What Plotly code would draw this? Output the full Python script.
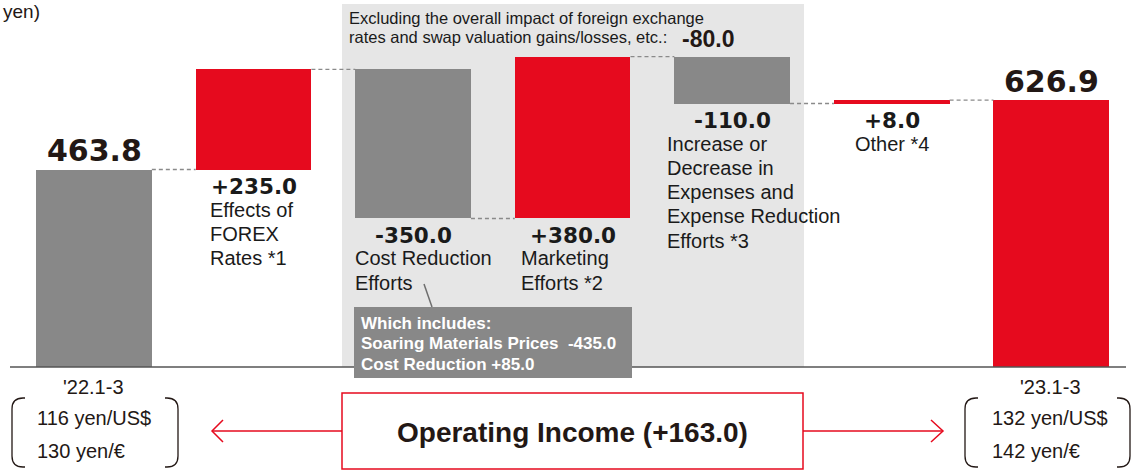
import plotly.graph_objects as go

# ---------------- data ----------------
categories = ["'22.1-3", "Effects of FOREX Rates *1", "Cost Reduction Efforts",
              "Marketing Efforts *2",
              "Increase or Decrease in Expenses and Expense Reduction Efforts *3",
              "Other *4", "'23.1-3"]
start_value = 463.8
deltas = [235.0, -350.0, 380.0, -110.0, 8.0]
end_value = 626.9
value_labels = ["463.8", "+235.0", "-350.0", "+380.0", "-110.0", "+8.0", "626.9"]
label_lines = [[], ["Effects of", "FOREX", "Rates *1"], ["Cost Reduction", "Efforts"],
               ["Marketing", "Efforts *2"],
               ["Increase or", "Decrease in", "Expenses and", "Expense Reduction", "Efforts *3"],
               ["Other *4"], []]
excl_lines = ["Excluding the overall impact of foreign exchange",
              "rates and swap valuation gains/losses, etc.:"]
excl_value = "-80.0"
callout_lines = ["Which includes:", "Soaring Materials Prices  -435.0", "Cost Reduction +85.0"]
periods = ["'22.1-3", "'23.1-3"]
fx_rates = [["116 yen/US$", "130 yen/€"], ["132 yen/US$", "142 yen/€"]]
summary_text = "Operating Income (+163.0)"
unit_text = "yen)"

# ---------------- style ----------------
W, H = 1132, 470
RED = "#E60A1E"
GRAY = "#888888"
BOXBG = "#E6E6E6"
TXT = "#1a1a1a"
TXT2 = "#231815"
BAR_W = 0.725
NUM_FONT = dict(family="DejaVu Sans", size=21.5, color=TXT)
TOT_FONT = dict(family="DejaVu Sans", size=30, color=TXT2)
LBL_FONT = dict(family="Liberation Sans", size=20, color=TXT)


def P(xpx):
    return xpx / W


def Q(ypx):
    return 1 - ypx / H


# cumulative levels
levels = [start_value]
for d in deltas:
    levels.append(round(levels[-1] + d, 1))

bases, heights, colors = [], [], []
bases.append(0); heights.append(start_value); colors.append(GRAY)
for i, d in enumerate(deltas):
    bases.append(min(levels[i], levels[i + 1]))
    heights.append(abs(d))
    colors.append(RED if d > 0 else GRAY)
bases.append(0); heights.append(end_value); colors.append(RED)

xs = list(range(len(categories)))

fig = go.Figure()
fig.add_trace(go.Bar(x=xs, y=heights, base=bases, width=BAR_W,
                     marker=dict(color=colors, line=dict(width=0)),
                     hoverinfo="skip", customdata=categories))

shapes = []
# grey background region
shapes.append(dict(type="rect", xref="paper", yref="paper", x0=P(342), x1=P(804),
                   y0=Q(367), y1=Q(4), fillcolor=BOXBG, line=dict(width=0), layer="below"))

# connectors
for i in range(len(categories) - 1):
    lvl = levels[i] if i < len(levels) else end_value
    shapes.append(dict(type="line", xref="x", yref="y", x0=i + BAR_W / 2, x1=i + 1 - BAR_W / 2,
                       y0=lvl, y1=lvl, line=dict(color="#8a8a8a", width=1.3, dash="4px,3px"),
                       layer="above"))

# baseline
shapes.append(dict(type="line", xref="paper", yref="y", x0=P(10), x1=P(1126), y0=0, y1=0,
                   line=dict(color="#555555", width=1.5), layer="above"))

# callout box + leader line
shapes.append(dict(type="line", xref="paper", yref="paper", x0=P(424), y0=Q(284), x1=P(432), y1=Q(307),
                   line=dict(color="#6e6e6e", width=1.5), layer="above"))
shapes.append(dict(type="rect", xref="paper", yref="paper", x0=P(354), x1=P(632),
                   y0=Q(378), y1=Q(307), fillcolor=GRAY, line=dict(width=0), layer="above"))

# summary box
shapes.append(dict(type="rect", xref="paper", yref="paper", x0=P(342), x1=P(803),
                   y0=Q(469), y1=Q(393), fillcolor="white", line=dict(color=RED, width=1.5),
                   layer="above"))
# arrows
ay = 431
shapes.append(dict(type="line", xref="paper", yref="paper", x0=P(342), x1=P(212), y0=Q(ay), y1=Q(ay),
                   line=dict(color=RED, width=1.5)))
shapes.append(dict(type="path", xref="paper", yref="paper",
                   path=f"M {P(223)} {Q(420)} L {P(212)} {Q(ay)} L {P(223)} {Q(442)}",
                   line=dict(color=RED, width=1.5)))
shapes.append(dict(type="line", xref="paper", yref="paper", x0=P(803), x1=P(943), y0=Q(ay), y1=Q(ay),
                   line=dict(color=RED, width=1.5)))
shapes.append(dict(type="path", xref="paper", yref="paper",
                   path=f"M {P(931)} {Q(420)} L {P(943)} {Q(ay)} L {P(931)} {Q(442)}",
                   line=dict(color=RED, width=1.5)))


# brackets
def bracket(x0, x1, top, bot, r=11, stub=2):
    left = (f"M {P(x0 + r + stub)} {Q(top)} L {P(x0 + r)} {Q(top)} "
            f"Q {P(x0)} {Q(top)} {P(x0)} {Q(top + r)} L {P(x0)} {Q(bot - r)} "
            f"Q {P(x0)} {Q(bot)} {P(x0 + r)} {Q(bot)} L {P(x0 + r + stub)} {Q(bot)}")
    right = (f"M {P(x1 - r - stub)} {Q(top)} L {P(x1 - r)} {Q(top)} "
             f"Q {P(x1)} {Q(top)} {P(x1)} {Q(top + r)} L {P(x1)} {Q(bot - r)} "
             f"Q {P(x1)} {Q(bot)} {P(x1 - r)} {Q(bot)} L {P(x1 - r - stub)} {Q(bot)}")
    return [dict(type="path", xref="paper", yref="paper", path=p,
                 line=dict(color=TXT2, width=1.3)) for p in (left, right)]


shapes += bracket(12, 178, 398, 467)
shapes += bracket(965, 1130, 398, 467)

ann = []
# value labels
label_dx = [0, -44, -58, -52, -65, 0, 0]
for i, txt in enumerate(value_labels):
    if i == 0 or i == len(value_labels) - 1:
        top = start_value if i == 0 else end_value
        ann.append(dict(x=i, y=top, xref="x", yref="y", text=txt, showarrow=False,
                        font=dict(TOT_FONT, weight="bold"), xanchor="center", yanchor="middle",
                        yshift=19))
    else:
        low = bases[i]
        ann.append(dict(x=i, y=low, xref="x", yref="y", text=txt, showarrow=False,
                        font=dict(NUM_FONT, weight="bold"), xanchor="center", yanchor="middle",
                        yshift=-17))
        lines = label_lines[i]
        for k, ln in enumerate(lines):
            if len(lines) == 1:
                ann.append(dict(x=i, y=low, xref="x", yref="y", text=ln, showarrow=False,
                                font=LBL_FONT, xanchor="center", yanchor="middle",
                                yshift=-(17 + 23.5 + 24.3 * k)))
            else:
                ann.append(dict(x=i, y=low, xref="x", yref="y", text=ln, showarrow=False,
                                font=LBL_FONT, xanchor="left", yanchor="middle",
                                xshift=label_dx[i] - 2, yshift=-(17 + 23 + 24.3 * k)))

# excluding text
for k, ln in enumerate(excl_lines):
    ann.append(dict(x=P(347), y=Q(18 + 19.5 * k), xref="paper", yref="paper", text=ln,
                    showarrow=False, font=dict(family="Liberation Sans", size=16.5, color=TXT),
                    xanchor="left", yanchor="middle"))
ann.append(dict(x=P(680), y=Q(38.5), xref="paper", yref="paper", text=excl_value, showarrow=False,
                font=dict(family="Liberation Sans", size=23, color=TXT2, weight="bold"),
                xanchor="left", yanchor="middle"))

# callout text
for k, ln in enumerate(callout_lines):
    ann.append(dict(x=P(359), y=Q(323.5 + 20.4 * k), xref="paper", yref="paper", text=ln,
                    showarrow=False, font=dict(family="Liberation Sans", size=17, color="white",
                                               weight="bold"),
                    xanchor="left", yanchor="middle"))

# summary
ann.append(dict(x=P(572), y=Q(432), xref="paper", yref="paper", text=summary_text, showarrow=False,
                font=dict(family="Liberation Sans", size=28, color=TXT2, weight="bold"),
                xanchor="center", yanchor="middle"))

# periods and fx
for j, (cx, lx) in enumerate([(94, 35), (1050, 990)]):
    ann.append(dict(x=P(cx), y=Q(387), xref="paper", yref="paper", text=periods[j], showarrow=False,
                    font=dict(family="Liberation Sans", size=20, color=TXT2),
                    xanchor="center", yanchor="middle"))
    for k, ln in enumerate(fx_rates[j]):
        ann.append(dict(x=P(lx), y=Q(417.5 + 33 * k), xref="paper", yref="paper", text=ln,
                        showarrow=False, font=dict(family="Liberation Sans", size=20, color=TXT2),
                        xanchor="left", yanchor="middle"))

# unit text (top-left)
ann.append(dict(x=P(1), y=Q(0), xref="paper", yref="paper", text=unit_text, showarrow=False,
                font=dict(family="Liberation Sans", size=19, color=TXT2),
                xanchor="left", yanchor="top", yshift=1))

px_per_unit = 0.4258
base_px = 367
fig.update_layout(
    width=W, height=H, margin=dict(l=0, r=0, t=0, b=0),
    paper_bgcolor="white", plot_bgcolor="rgba(0,0,0,0)",
    showlegend=False, bargap=0,
    xaxis=dict(visible=False, range=[-94 / 159.55, (W - 94) / 159.55], fixedrange=True),
    yaxis=dict(visible=False, range=[-(H - base_px) / px_per_unit, base_px / px_per_unit],
               fixedrange=True),
    shapes=shapes, annotations=ann,
)

fig.write_html("out.html", config={"displayModeBar": False},
               post_script="document.body.style.margin='0';document.body.style.overflow='hidden';")
